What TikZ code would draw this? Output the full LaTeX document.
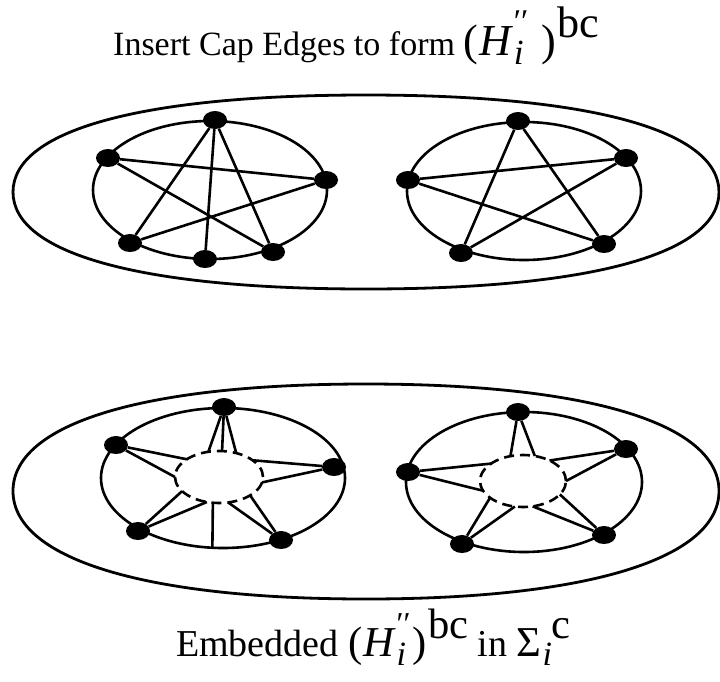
\documentclass[tikz,border=0pt]{standalone}
\usepackage{fontspec}
\usepackage{graphicx}
\setmainfont{Liberation Serif}
\usetikzlibrary{shapes.geometric,calc}
% #1 = gap before closing parenthesis
\newcommand\Hbc[1]{(\kern0.03em\textit{H}\kern0.01em\rlap{\raisebox{-0.22em}{\scalebox{0.8}{\itshape i}}}\raisebox{0.5em}{\scalebox{0.75}{′′}}\kern#1)\kern0.03em\raisebox{0.4em}{bc}}
\newcommand\Sic{Σ\kern0.02em\rlap{\raisebox{-0.22em}{\scalebox{0.8}{\itshape i}}}\kern0.2em\raisebox{0.4em}{c}}
\begin{document}
\begin{tikzpicture}[x=1pt,y=-1pt,
  edge/.style={line width=2.6pt},
  ring/.style={line width=2.6pt},
  blob/.style={line width=2.8pt},
  capring/.style={line width=2.6pt,dash pattern=on 10pt off 6pt},
  vtx/.style={ellipse,fill=black,minimum width=24pt,minimum height=18pt,inner sep=0pt}]
\useasboundingbox (0,0) rectangle (720,681);

% outer surfaces
\draw[blob] (719,192) .. controls (719,130) and (590,95) .. (366,95)
  .. controls (142,95) and (13,130) .. (13,192)
  .. controls (13,254) and (142,289) .. (366,289)
  .. controls (590,289) and (719,254) .. (719,192) -- cycle;
\draw[blob] (719,491) .. controls (719,424) and (590,384) .. (366,384)
  .. controls (142,384) and (13,424) .. (13,491)
  .. controls (13,558) and (142,599) .. (366,599)
  .. controls (590,599) and (719,558) .. (719,491) -- cycle;

% ---------- top left ----------
\draw[ring] (210,190) ellipse [x radius=117pt, y radius=69pt];
\node[vtx] (a1) at (215,120) {};
\node[vtx] (a2) at (108,158) {};
\node[vtx] (a3) at (326,180) {};
\node[vtx] (a4) at (130,243) {};
\node[vtx] (a5) at (205,259) {};
\node[vtx] (a6) at (273,252) {};
\draw[edge] (a1) -- (a4);
\draw[edge] (a1) -- (a5);
\draw[edge] (a1) -- (a6);
\draw[edge] (a2) -- (a3);
\draw[edge] (a2) -- (a6);
\draw[edge] (a3) -- (a4);

% ---------- top right ----------
\draw[ring] (524,191) ellipse [x radius=117pt, y radius=69pt];
\node[vtx] (b1) at (518,121) {};
\node[vtx] (b2) at (408,180) {};
\node[vtx] (b3) at (626,158) {};
\node[vtx] (b4) at (461,253) {};
\node[vtx] (b5) at (604,244) {};
\draw[edge] (b1) -- (b4);
\draw[edge] (b1) -- (b5);
\draw[edge] (b2) -- (b3);
\draw[edge] (b2) -- (b5);
\draw[edge] (b3) -- (b4);

% ---------- bottom left ----------
\draw[ring] (223,478) ellipse [x radius=122pt, y radius=70pt];
\coordinate (cA) at (219,477);
\draw[capring] (cA) ellipse [x radius=44pt, y radius=26pt];
\foreach \n/\t in {p1/-104,p2/-86,p3/-67,p4/-137,p5/180,p6/-40,p7/12,p8/147,p9/106,p10/78,p11/45,p12/98}
  \coordinate (\n) at ($(cA)+(\t:44 and 26)$);
\coordinate (q1) at ($(223,478)+(95:122 and 70)$);
\node[vtx] (c1) at (224,407) {};
\node[vtx] (c2) at (116,445) {};
\node[vtx] (c3) at (334,467) {};
\node[vtx] (c4) at (138,531) {};
\node[vtx] (c5) at (281,540) {};
\draw[edge] (c1) -- (p1);
\draw[edge] (c1) -- (p2);
\draw[edge] (c1) -- (p3);
\draw[edge] (c2) -- (p4);
\draw[edge] (c2) -- (p5);
\draw[edge] (c3) -- (p6);
\draw[edge] (c3) -- (p7);
\draw[edge] (c4) -- (p8);
\draw[edge] (c4) -- (p9);
\draw[edge] (c5) -- (p10);
\draw[edge] (c5) -- (p11);
\draw[edge] (p12) -- (q1);

% ---------- bottom right ----------
\draw[ring] (524,482) ellipse [x radius=118pt, y radius=70pt];
\coordinate (cB) at (523,481);
\draw[capring] (cB) ellipse [x radius=43pt, y radius=26pt];
\foreach \n/\t in {r1/-107,r2/-74,r3/-138,r4/158,r5/-52,r6/0,r7/140,r8/101,r9/77,r10/31}
  \coordinate (\n) at ($(cB)+(\t:43 and 26)$);
\node[vtx] (d1) at (518,412) {};
\node[vtx] (d2) at (408,472) {};
\node[vtx] (d3) at (626,449) {};
\node[vtx] (d4) at (462,544) {};
\node[vtx] (d5) at (604,535) {};
\draw[edge] (d1) -- (r1);
\draw[edge] (d1) -- (r2);
\draw[edge] (d2) -- (r3);
\draw[edge] (d2) -- (r4);
\draw[edge] (d3) -- (r5);
\draw[edge] (d3) -- (r6);
\draw[edge] (d4) -- (r7);
\draw[edge] (d4) -- (r8);
\draw[edge] (d5) -- (r9);
\draw[edge] (d5) -- (r10);

% ---------- texts ----------
\node[inner sep=0pt,anchor=base west] (title) at (113,55) {\fontsize{34}{40}\selectfont Insert Cap Edges to form \scalebox{1.3}{\Hbc{0.3em}}};
\node[inner sep=0pt,anchor=base west] (caption) at (176,656) {\fontsize{38}{44}\selectfont Embedded \scalebox{1.12}{\Hbc{0.05em}} in \scalebox{1.12}{\Sic}};
\end{tikzpicture}
\end{document}
